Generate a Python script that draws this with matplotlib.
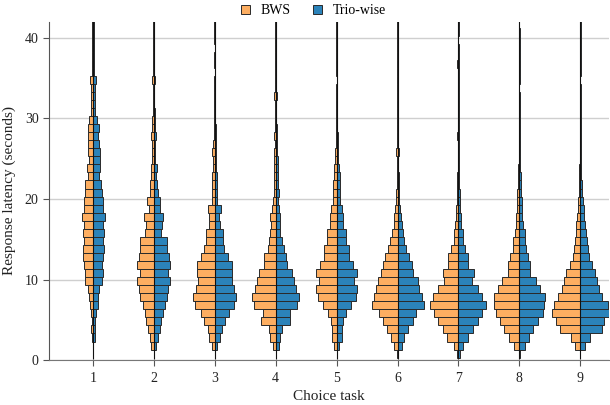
import numpy as np
import matplotlib
matplotlib.use("Agg")
import matplotlib.pyplot as plt
from matplotlib.patches import Patch

plt.rcParams['font.family'] = ['Liberation Serif', 'DejaVu Serif']

# ---- data -----------------------------------------------------------
tasks = [1, 2, 3, 4, 5, 6, 7, 8, 9]
series_names = ["BWS", "Trio-wise"]
bin_start = 0.3          # lower edge of first histogram bin (seconds)
bin_width = 1.0          # bin width (seconds)

# relative frequency per 1-second bin (bins start at 0.3 s), one list per task
bws = [
    [0,0,4,5,3,6,10,12,15,24,25,27,30,31,28,30,28,33,28,28,25,23,15,18,13,15,16,16,16,11,7,7,7,7,8,4,4,4,4,2,2,2],
    [0,9,12,17,22,27,32,40,45,50,42,49,44,42,40,26,24,29,14,20,12,10,8,9,5,5,5,8,4,4,3,2,1,2,6,1,1,2,1,1,1,1],
    [0,9,17,21,32,41,59,64,56,49,52,52,41,31,27,27,17,17,19,9,7,7,7,5,5,7,4,3,3,2,2,1,1,1,1,0,1,1,0,1,1,1],
    [0,8,16,21,43,38,64,71,61,56,51,36,34,24,21,16,13,16,11,8,6,6,6,6,4,5,3,4,3,2,2,1,5,1,1,1,1,1,1,1,1,1],
    [0,7,14,14,17,25,40,56,62,53,62,50,38,38,28,28,20,20,16,11,11,11,9,8,5,4,3,3,2,1,1,1,1,1,0,1,1,1,1,1,1,1],
    [1,12,20,32,45,55,77,72,65,60,50,45,38,28,22,18,12,12,7,5,4,3,3,2,2,4,2,1,2,1,1,1,1,2,1,1,1,1,1,1,1,1],
    [4,14,34,47,62,74,84,77,60,44,47,32,30,22,14,14,10,7,6,5,4,3,3,2,1,1,1,3,1,1,1,1,2,1,1,1,3,2,1,0,1,1],
    [1,17,30,45,58,70,75,75,63,51,33,33,28,18,18,13,10,10,7,7,6,5,4,3,2,2,2,2,1,1,1,1,1,0,1,1,1,1,1,1,1,0],
    [0,15,27,60,73,84,78,66,56,49,42,31,21,19,16,14,12,10,8,6,4,3,3,3,2,2,1,1,1,1,1,1,1,1,0,1,1,1,1,1,2,1],
]
trio = [
    [0,0,7,7,7,10,14,14,17,28,30,28,30,32,29,32,29,35,29,29,27,25,17,22,20,20,18,16,18,12,7,7,7,7,8,4,4,4,4,2,2,2],
    [0,8,13,18,21,28,33,40,43,50,43,48,45,41,40,23,26,28,18,20,12,10,8,10,5,5,5,8,3,4,3,2,1,2,3,1,1,2,1,1,1,1],
    [0,8,16,21,31,44,58,63,58,51,51,51,41,29,26,24,16,14,18,8,7,7,8,5,5,5,4,3,3,2,2,1,1,1,1,0,1,1,0,1,1,1],
    [0,9,14,19,42,44,64,71,62,54,49,34,32,24,19,14,12,12,9,7,9,8,7,7,6,5,3,4,3,2,2,1,5,1,1,1,1,1,1,1,1,1],
    [0,7,16,16,19,27,42,57,62,52,62,50,37,37,27,27,19,19,17,11,10,10,9,7,5,4,3,3,2,1,1,1,1,1,0,1,1,1,1,1,1,1],
    [1,13,20,30,45,55,78,73,65,60,45,42,35,25,20,15,12,10,7,5,4,3,3,2,2,4,2,1,2,1,1,1,1,2,1,1,1,1,1,1,1,1],
    [4,13,28,43,58,71,83,71,58,41,48,30,28,20,13,13,8,8,6,5,4,3,3,2,1,1,1,3,1,1,1,1,2,1,1,1,1,1,1,0,1,1],
    [1,17,29,42,57,70,75,77,62,50,32,32,27,19,17,17,10,9,7,7,6,5,4,3,2,2,2,2,1,1,1,1,1,0,1,1,1,1,1,1,1,0],
    [0,15,29,66,70,85,82,65,57,50,44,35,26,24,19,16,14,12,10,9,5,5,3,3,2,2,1,1,1,1,1,1,1,1,0,1,1,1,1,1,2,1],
]
# overall response-latency range per task (seconds)
rt_min = [0.1, 0.1, 0.1, 0.1, 0.1, 0.1, 0.1, 0.1, 0.1]
rt_max = [60, 60, 60, 60, 60, 60, 60, 60, 60]

# ---- style ----------------------------------------------------------
c_bws = "#fdae61"
c_trio = "#2b83ba"
edge = "#2a2a2a"

fig = plt.figure(figsize=(6.10, 4.05), dpi=100)
ax = fig.add_axes([0.0803, 0.111, 0.918, 0.835])

vmax = max(max(max(r) for r in bws), max(max(r) for r in trio))
half = 0.465

for i, t in enumerate(tasks):
    b = np.asarray(bws[i], float)
    r = np.asarray(trio[i], float)
    centers = bin_start + bin_width * (np.arange(len(b)) + 0.5)
    wb = b / vmax * half
    wr = r / vmax * half
    mb = b > 0
    mr = r > 0
    ax.barh(centers[mb], wb[mb], left=t - wb[mb], height=bin_width,
            color=c_bws, edgecolor=edge, linewidth=0.7, zorder=2)
    ax.barh(centers[mr], wr[mr], left=t, height=bin_width,
            color=c_trio, edgecolor=edge, linewidth=0.7, zorder=2)
    ax.vlines(t, rt_min[i], rt_max[i], color="#111111", linewidth=0.8, zorder=3)

ax.set_xlim(0.28, 9.47)
ax.set_ylim(0, 42)
ax.set_xticks(tasks)
ax.set_yticks([0, 10, 20, 30, 40])
ax.yaxis.grid(True, color="#cfcfcf", linewidth=1.0, zorder=0)
ax.set_axisbelow(True)
for s in ("top", "right"):
    ax.spines[s].set_visible(False)
ax.spines["left"].set_color("#555555")
ax.spines["bottom"].set_color("#777777")
ax.tick_params(axis="both", direction="out", color="#555555",
               labelsize=10, labelcolor="#222222", length=4.5)
ax.tick_params(axis="x", pad=4)
ax.tick_params(axis="y", pad=3)
ax.set_xlabel("Choice task", fontsize=11, color="#222222", labelpad=4)
ax.set_ylabel("Response latency (seconds)", fontsize=11, color="#222222",
              labelpad=6)

handles = [Patch(facecolor=c_bws, edgecolor=edge, linewidth=0.7),
           Patch(facecolor=c_trio, edgecolor=edge, linewidth=0.7)]
fig.legend(handles, series_names, loc="upper center", ncol=2, frameon=False,
           bbox_to_anchor=(0.514, 1.02), fontsize=10, handlelength=0.65,
           handleheight=0.65, columnspacing=1.6, handletextpad=0.8)

fig.savefig("out.png", dpi=100)
